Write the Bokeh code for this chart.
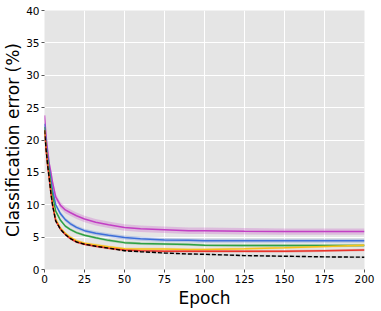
from bokeh.plotting import figure
from bokeh.embed import file_html
from bokeh.resources import INLINE
from bokeh.models import FixedTicker

epochs = [0, 1, 2, 3, 4, 5, 7, 10, 13, 16, 20, 25, 32, 40, 50, 60, 75, 90, 100, 125, 150, 175, 200]

err_magenta = [23.8, 20.5, 18.3, 16.3, 15.0, 13.5, 11.2, 9.9, 9.2, 8.8, 8.3, 7.8, 7.3, 6.9, 6.5, 6.3, 6.15, 6.0, 6.0, 5.9, 5.85, 5.85, 5.85]
err_blue    = [22.5, 19.5, 17.3, 15.6, 13.8, 12.3, 10.0, 8.6, 7.7, 7.1, 6.5, 6.0, 5.6, 5.3, 4.95, 4.75, 4.55, 4.5, 4.45, 4.45, 4.45, 4.45, 4.45]
err_green   = [22.0, 19.0, 16.8, 15.0, 13.0, 11.5, 9.0, 7.6, 6.7, 6.2, 5.7, 5.3, 4.9, 4.5, 4.15, 4.0, 3.95, 3.85, 3.75, 3.7, 3.7, 3.7, 3.7]
err_yellow  = [21.5, 18.6, 16.2, 14.2, 12.0, 10.3, 7.8, 6.4, 5.6, 5.0, 4.45, 4.05, 3.8, 3.5, 3.2, 3.15, 3.15, 3.1, 3.1, 3.2, 3.35, 3.55, 3.75]
err_red     = [21.5, 18.5, 16.0, 14.0, 11.8, 10.0, 7.5, 6.2, 5.4, 4.8, 4.25, 3.9, 3.6, 3.3, 3.0, 2.9, 2.8, 2.8, 2.8, 2.8, 2.8, 2.9, 3.0]
err_black   = [21.5, 18.5, 16.0, 14.0, 11.8, 10.0, 7.5, 6.2, 5.4, 4.8, 4.25, 3.9, 3.6, 3.3, 2.9, 2.75, 2.55, 2.4, 2.35, 2.15, 2.05, 1.95, 1.9]

band_magenta = 0.5
band_blue = 0.3
band_green = 0.2
band_yellow = 0.2
band_red = 0.2
band_black = 0.15

x_ticks = [0, 25, 50, 75, 100, 125, 150, 175, 200]
y_ticks = [0, 5, 10, 15, 20, 25, 30, 35, 40]

x_title = "Epoch"
y_title = "Classification error (%)"

series = [
    (err_magenta, band_magenta, "#C23FC4", 1.5),
    (err_blue, band_blue, "#3D6FD9", 1.5),
    (err_green, band_green, "#2EA043", 1.5),
    (err_yellow, band_yellow, "#F7C21B", 1.5),
    (err_red, band_red, "#E8332A", 1.5),
]

p = figure(width=380, height=310, x_range=(0, 200), y_range=(0, 40),
           output_backend="svg", toolbar_location=None,
           min_border_left=0, min_border_right=16, min_border_top=10, min_border_bottom=0)

p.background_fill_color = "#E5E5E5"
p.outline_line_color = None
p.border_fill_color = "white"

for vals, bw, col, lw in series:
    p.varea(x=epochs, y1=[v - bw for v in vals], y2=[v + bw for v in vals],
            fill_color=col, fill_alpha=0.25)
p.varea(x=epochs, y1=[v - band_black for v in err_black], y2=[v + band_black for v in err_black],
        fill_color="#888888", fill_alpha=0.25)

for vals, bw, col, lw in series:
    p.line(epochs, vals, line_color=col, line_width=lw)
p.line(epochs, err_black, line_color="black", line_width=1.4, line_dash="4 2")

p.xgrid.grid_line_color = "white"
p.ygrid.grid_line_color = "white"
p.xgrid.grid_line_width = 1
p.ygrid.grid_line_width = 1

p.xaxis.ticker = FixedTicker(ticks=x_ticks)
p.yaxis.ticker = FixedTicker(ticks=y_ticks)

for ax in (p.xaxis, p.yaxis):
    ax.axis_line_color = None
    ax.major_tick_line_color = "#555555"
    ax.major_tick_out = 3
    ax.major_tick_in = 0
    ax.minor_tick_line_color = None
    ax.major_label_text_font = "DejaVu Sans"
    ax.major_label_text_font_size = "10.5px"
    ax.major_label_text_color = "black"
    ax.major_label_text_line_height = 1.0
    ax.major_label_standoff = 2
    ax.axis_label_text_font = "DejaVu Sans"
    ax.axis_label_text_font_size = "17px"
    ax.axis_label_text_font_style = "normal"
    ax.axis_label_text_color = "black"
    ax.axis_label_text_line_height = 1.0

p.xaxis.axis_label_standoff = 2
p.yaxis.axis_label_standoff = 0

p.xaxis.axis_label = x_title
p.yaxis.axis_label = y_title

open("out.html", "w").write(file_html(p, INLINE))
